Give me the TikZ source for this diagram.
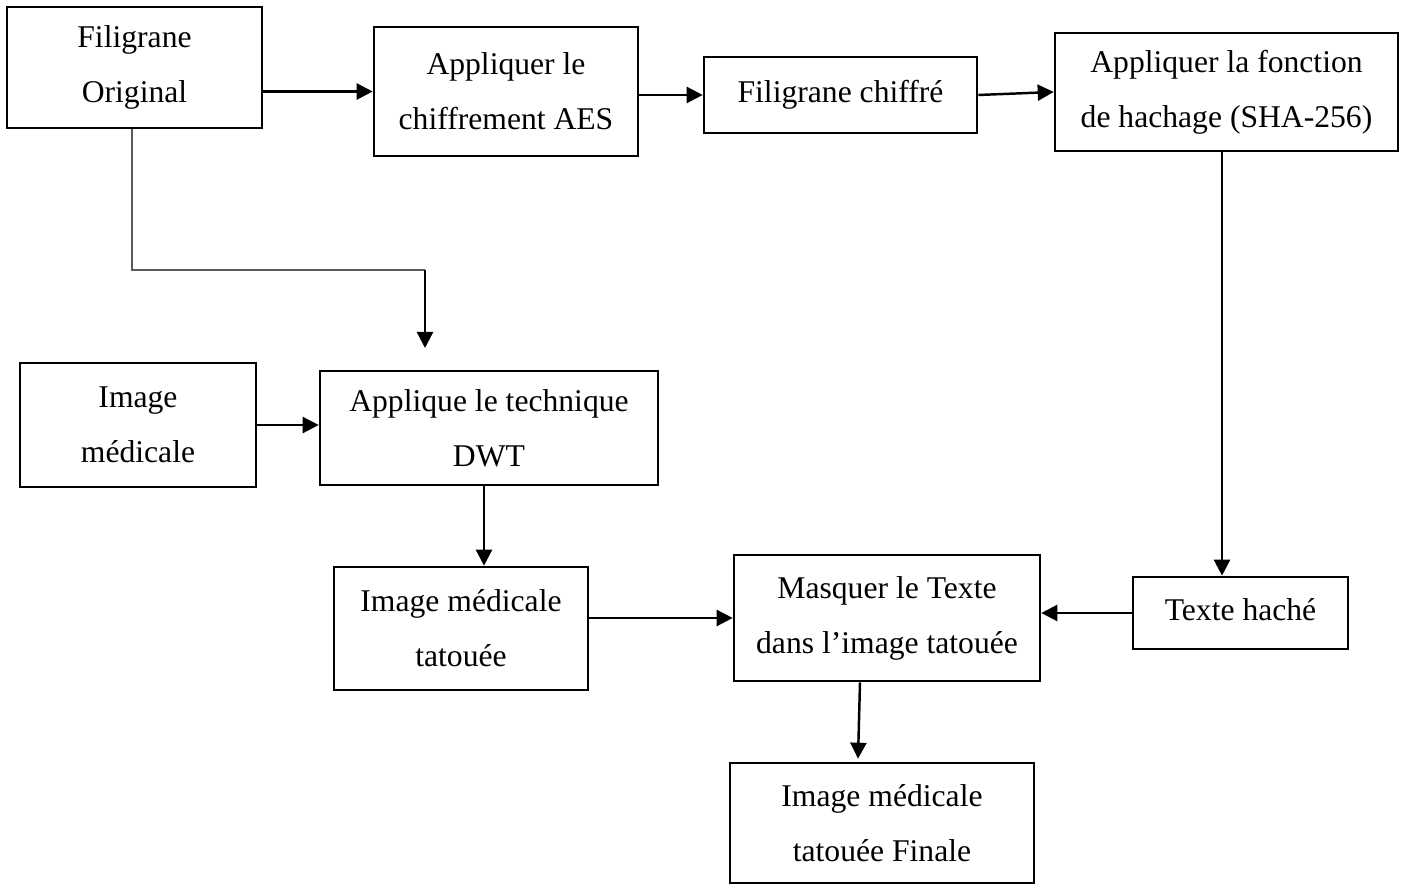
\documentclass[tikz,border=0pt]{standalone}
\usepackage{fontspec}
\setmainfont{Liberation Serif}
\usepackage{tikz}
\usetikzlibrary{arrows.meta,positioning,calc}

\begin{document}
\begin{tikzpicture}[
    box/.style={draw, line width=1.5pt, align=center, inner sep=0pt,
        font=\fontsize{18}{31.3}\selectfont},
    arr/.style={-{Triangle[length=0.32cm,width=0.32cm]}, line width=1.4pt}]
    \useasboundingbox (0,0) rectangle (28.08,-17.68);

    \node[box, minimum width=5.10cm, minimum height=2.42cm] (orig) at (2.69,-1.35) {Filigrane\\Original};
    \node[box, minimum width=5.28cm, minimum height=2.58cm] (aes) at (10.12,-1.83) {Appliquer le\\chiffrement AES};
    \node[box, minimum width=5.46cm, minimum height=1.52cm] (chiff) at (16.81,-1.90) {\raisebox{0.16cm}{Filigrane chiffré}};
    \node[box, minimum width=6.86cm, minimum height=2.36cm] (hach) at (24.53,-1.84) {Appliquer la fonction\\de hachage (SHA-256)};

    \node[box, minimum width=4.72cm, minimum height=2.48cm] (imed) at (2.76,-8.50) {Image\\médicale};
    \node[box, minimum width=6.76cm, minimum height=2.28cm] (dwt) at (9.78,-8.56) {Applique le technique\\DWT};

    \node[box, minimum width=5.08cm, minimum height=2.46cm] (tat) at (9.22,-12.57) {Image médicale\\tatouée};
    \node[box, minimum width=6.12cm, minimum height=2.52cm] (masq) at (17.74,-12.36) {Masquer le Texte\\dans l’image tatouée};
    \node[box, minimum width=4.30cm, minimum height=1.44cm] (hache) at (24.81,-12.26) {\raisebox{0.14cm}{Texte haché}};
    \node[box, minimum width=6.08cm, minimum height=2.40cm] (final) at (17.64,-16.46) {Image médicale\\tatouée Finale};

    % top row
    \draw[arr] (orig.east |- aes) -- (aes.west);
    \draw[arr] (aes.east |- chiff) -- (chiff.west);
    \draw[arr] (chiff.east) -- (hach.west);
    \draw[arr] ([xshift=-0.09cm]hach.south) -- ([xshift=-0.09cm]hach.south |- hache.north);

    % watermark down to DWT
    \coordinate (bend) at (8.50,-5.40);
    \coordinate (dwtin) at (8.50,-6.96);
    \draw[line width=1.1pt, black!65] ([xshift=-0.05cm]orig.south) |- (bend);
    \draw[arr] (bend) -- (dwtin);

    \draw[arr] (imed.east) -- (imed.east -| dwt.west);
    \draw[arr] ([xshift=-0.1cm]dwt.south) -- ([xshift=-0.1cm]dwt.south |- tat.north);
    \draw[arr] (masq.west -| tat.east) -- (masq.west);
    \draw[arr] (hache.west) -- (hache.west -| masq.east);
    \draw[arr] ([xshift=-0.54cm]masq.south) -- ([xshift=-0.48cm,yshift=0.06cm]final.north);
\end{tikzpicture}
\end{document}
